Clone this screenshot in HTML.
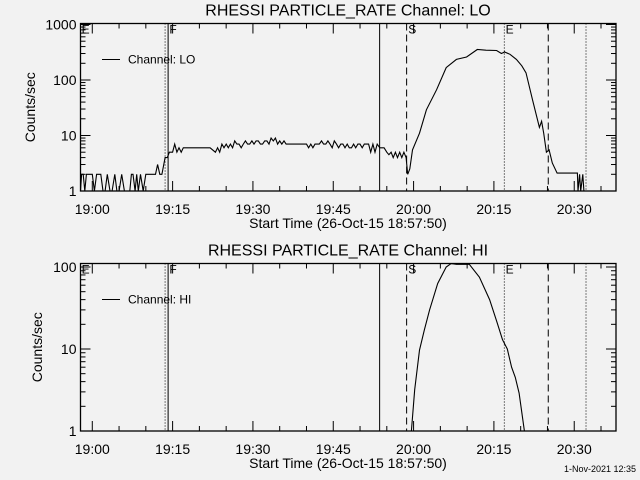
<!DOCTYPE html>
<html><head><meta charset="utf-8"><style>
html,body{margin:0;padding:0;background:#f2f2f2;}
svg{display:block;font-family:"Liberation Sans",sans-serif;}
</style></head><body>
<svg id="chart" width="640" height="480" viewBox="0 0 640 480"></svg>
<script>
// ---- data (time in minutes after 19:00) ----
const loTimes = [
-2.2,-2,-1.7,-1.4,-1.1,-0.8,-0.5,0,0.4,0.8,
1.2,1.6,2,2.4,2.8,3.3,3.7,4.2,4.6,5,
5.5,6,6.5,7,7.3,7.6,8,8.3,8.6,9,
9.5,10,11,11.8,12.2,12.6,13,13.6,14,14.4,
15,15.4,15.8,16.2,16.6,17,17.4,18,20,22,
23,23.4,23.8,24.2,24.6,25,25.4,25.8,26.2,26.6,
27,27.4,27.8,28.2,28.6,29,29.4,29.8,30.2,30.6,
31,31.4,31.8,32.2,32.6,33,33.4,33.8,34.2,34.6,
35,35.4,35.8,36.2,36.6,37,38,39,40,40.4,
40.8,41.2,41.6,42,42.4,42.8,43.2,43.6,44,44.4,
44.8,45.2,45.6,46,46.4,46.8,47.2,47.6,48,48.4,
48.8,49.2,49.6,50,50.4,50.8,51.2,51.6,52,52.4,
52.8,53.2,53.7,54.5,55,55.4,55.8,56.2,56.6,57,
57.4,57.8,58.2,58.6,58.9,59.3,59.8,61.1,62.4,64.3,
66.1,68,69.9,71.9,73.5,75.5,76.4,77,78,79.2,
80.2,81,82.2,83.5,83.9,84.3,84.8,85.3,85.9,86.8,
90.6,90.7,91,91.2,91.6,91.8,92];
const loValues = [
1,2,2,1,2,2,2,2,1,2,
2,2,1,1,2,1,1,2,1,1,
2,1,1,1,2,2,1,2,1,2,
1,2,2,2,3,2,2,4,4,5,
5,7,5,6,5,6,6,6,6,6,
5,6,5,7,6,7,6,7,6,8,
7,7,6,7,8,7,7,8,7,8,
8,7,7,8,8,7,9,8,9,7,
8,7,8,7,7,7,7,7,7,6,
7,6,7,7,7,8,7,7,8,7,
6,8,7,6,7,7,6,7,6,6,
7,6,7,7,6,7,7,7,5,7,
5,7,6,6,5,4.5,5,4,5,4,
5,4,5,4,2,2.5,5.5,11,29,67,
167,235,260,355,345,340,300,320,290,235,
180,135,44,14,18,11,5,5.5,3.2,2.1,
2.1,1,2,1,2,1,1];
const hiTimes = [59.6,60.2,61.1,62,63,64.5,66.1,67,68,70.4,72.3,74.2,75.6,76.6,77.5,78.3,79,79.7,80.7];
const hiValues = [1,3.2,9.7,17,30,63,100,110,108,108,75,40,21,13,10,6,4.5,2.9,1];
const xTickLabels = ["19:00","19:15","19:30","19:45","20:00","20:15","20:30"];
const xTickTimes = [0,15,30,45,60,75,90];
const markerTimes = [13.6,14.16,53.66,58.7,76.95,85.15,92.2];
const markerStyles = ["dot","solid","solid","dash","dot","dash","dot"];
const markerLetters = ["E","F","S","E"];
const markerLetterTimes = [-2.0,14.4,59.0,77.2];
const loYTicks = [1,10,100,1000];
const hiYTicks = [1,10,100];

const NS="http://www.w3.org/2000/svg";
const svg=document.getElementById('chart');
function mk(tag,attrs,parent){const e=document.createElementNS(NS,tag);for(const k in attrs)e.setAttribute(k,attrs[k]);(parent||svg).appendChild(e);return e;}

function panel(cfg){
  const g=mk('g',{});
  
  
  const L=80.5,R=616,T=cfg.top,B=cfg.bottom;
  const t0=-2.2,t1=97.8;
  const xs=t=>L+(t-t0)/(t1-t0)*(R-L);
  const ys=v=>cfg.y1-(Math.log10(v))*cfg.dec;
  const ti=mk('text',{x:348,y:T-8,'text-anchor':'middle','font-size':16,fill:'#000'},g);
  ti.textContent=cfg.title;
  
  
  const fr=mk('rect',{x:L,y:T,width:R-L,height:B-T,fill:'none',stroke:'#000','stroke-width':1.3},g);
  
  
  for(let m=0;m<=95;m+=5){
    const x=xs(m),major=(m%15===0),len=major?10:5;
    mk('line',{x1:x,x2:x,y1:B,y2:B-len,stroke:'#000'},g);
    mk('line',{x1:x,x2:x,y1:T,y2:T+len,stroke:'#000'},g);
  }
  xTickTimes.forEach((t,i)=>{
    const tx=mk('text',{x:xs(t),y:B+23,'text-anchor':'middle','font-size':14,fill:'#000'},g);
    tx.textContent=xTickLabels[i];
    
    
  });
  const xt=mk('text',{x:348,y:B+37,'text-anchor':'middle','font-size':14,fill:'#000'},g);
  xt.textContent='Start Time (26-Oct-15 18:57:50)';
  
  
  const ticks=cfg.yticks;
  for(let d=0;d<ticks.length;d++){
    const base=ticks[d];
    for(let k=1;k<=9;k++){
      const v=base*k;const y=ys(v);
      if(y<T-0.5||y>B+0.5)continue;
      const len=k===1?10:5;
      mk('line',{x1:L,x2:L+len,y1:y,y2:y,stroke:'#000'},g);
      mk('line',{x1:R,x2:R-len,y1:y,y2:y,stroke:'#000'},g);
    }
    const yl=mk('text',{x:L-4,y:ys(base)+5,'text-anchor':'end','font-size':14,fill:'#000'},g);
    yl.textContent=String(base);
    
    
  }
  const yt=mk('text',{transform:`translate(${cfg.ytx},${(T+B)/2}) rotate(-90)`,'text-anchor':'middle','font-size':14,fill:'#000'},g);
  yt.textContent='Counts/sec';
  
  
  markerTimes.forEach((t,i)=>{
    const st=markerStyles[i];
    const a={x1:xs(t),x2:xs(t),y1:T,y2:B,stroke:'#000','stroke-width':1};
    if(st==='dot')a['stroke-dasharray']='1,2';
    if(st==='dash')a['stroke-dasharray']='7,4';
    const ln=mk('line',a,g);
    
    
  });
  markerLetters.forEach((s,i)=>{
    const tx=mk('text',{x:xs(markerLetterTimes[i]),y:T+10,'font-size':12,fill:'#000'},g);
    tx.textContent=s;
    
    
  });
  const lg=mk('g',{},g);
  
  
  mk('line',{x1:102,x2:120,y1:T+36,y2:T+36,stroke:'#000'},lg);
  const lt=mk('text',{x:128,y:T+40,'font-size':12,fill:'#000'},lg);
  lt.textContent=cfg.legend;
  let d='';
  cfg.times.forEach((t,i)=>{const y=Math.min(B,Math.max(T,ys(cfg.values[i])));d+=(i?'L':'M')+xs(t).toFixed(1)+','+y.toFixed(1);});
  const p=mk('path',{d:d,fill:'none',stroke:'#000','stroke-width':1.1},g);
  
  
}
panel({name:'lo-channel-panel',title:'RHESSI PARTICLE_RATE Channel: LO',top:23.5,bottom:191,y1:191,dec:55.5,yticks:loYTicks,legend:'Channel: LO',times:loTimes,values:loValues,seriesName:'lo-rate-line',ytx:35});
panel({name:'hi-channel-panel',title:'RHESSI PARTICLE_RATE Channel: HI',top:263.5,bottom:431,y1:431,dec:82,yticks:hiYTicks,legend:'Channel: HI',times:hiTimes,values:hiValues,seriesName:'hi-rate-line',ytx:42});
const st=mk('text',{x:636,y:472,'text-anchor':'end','font-size':9,fill:'#000'});
st.textContent='1-Nov-2021 12:35';


</script>
</body></html>
